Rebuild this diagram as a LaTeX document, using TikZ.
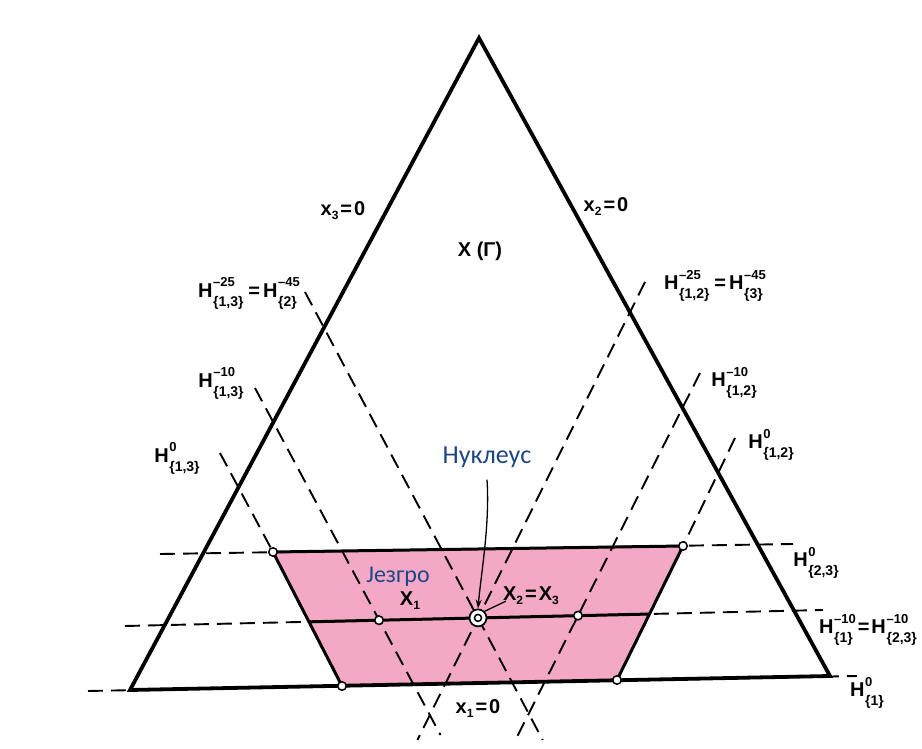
\documentclass[tikz,border=0pt]{standalone}
\usepackage{fontspec}
\setmainfont{Liberation Sans}
\newfontfamily\cyr{Carlito}
\usetikzlibrary{arrows.meta,calc}
\definecolor{pinkfill}{RGB}{243,168,198}
\definecolor{cyrblue}{RGB}{30,70,135}
\newcommand\Hsup{\fontsize{13}{13}\selectfont}
\newcommand\Hsub{\fontsize{14}{14}\selectfont}
\newcommand\HH[2]{H\kern0.6pt\smash{\raisebox{-9pt}{\vbox{\baselineskip=19.5pt\lineskiplimit=-50pt\hbox{\Hsup #1}\hbox{\Hsub #2}}}}}
\newcommand\SB[1]{\raisebox{-4pt}{\fontsize{12}{12}\selectfont #1}}
\newcommand\EQ{\kern2pt=\kern2pt}
\begin{document}
\begin{tikzpicture}[x=1pt,y=-1pt,
  tri/.style={line width=3.8pt,line join=miter},
  hdash/.style={line width=1.9pt,dash pattern=on 15pt off 8pt},
  edgeline/.style={line width=3pt},
  lab/.style={font=\fontsize{20}{20}\selectfont\bfseries,inner sep=0pt},
  cyrlab/.style={font=\cyr\fontsize{26}{26}\selectfont,text=cyrblue,inner sep=0pt},
  pt/.style={circle,draw=black,fill=white,line width=1.5pt,minimum size=8.5pt,inner sep=0pt}]
\useasboundingbox (0,0) rectangle (922,749);
\fill[white] (0,0) rectangle (922,749);

% key points
\coordinate (A) at (479,38);
\coordinate (BL) at (130,690);
\coordinate (BR) at (830,676);
\coordinate (TL) at (273,552);
\coordinate (TR) at (683,546);
\coordinate (PBL) at (342,686);
\coordinate (PBR) at (617,680);
\coordinate (T0) at (160,554);
\coordinate (T1) at (793,544);
\coordinate (M0) at (125,626);
\coordinate (M1) at (823,610);
\coordinate (B0) at (88,691);
\coordinate (B1) at (857,676);
\coordinate (P1) at (379,620.2);
\coordinate (N) at (478,617.9);
\coordinate (P2) at (578,615.6);
\coordinate (ML) at (intersection of M0--M1 and TL--PBL);
\coordinate (MR) at (intersection of M0--M1 and TR--PBR);

% pink core
\fill[pinkfill] (TL) -- (TR) -- (PBR) -- (PBL) -- cycle;

% dashed lines
\coordinate (s130) at (220,453);
\coordinate (s1310) at (255,388);
\coordinate (e1310) at (440.5,735);
\coordinate (s1325) at (305,292);
\coordinate (e1325) at (542.7,740);
\coordinate (s1225) at (645,282);
\coordinate (e1225) at (417.4,740);
\coordinate (s1210) at (700,373);
\coordinate (e1210) at (516.5,738);
\coordinate (s120) at (735,438);
\draw[hdash] (s130) -- (TL);
\draw[hdash] (s1310) -- (e1310);
\draw[hdash] (s1325) -- (e1325);
\draw[hdash] (s1225) -- (e1225);
\draw[hdash] (s1210) -- (e1210);
\draw[hdash] (s120) -- (TR);
\draw[hdash] (T0) -- (T1);
\draw[hdash] (M0) -- (M1);
\draw[hdash] (B0) -- (B1);

% solid lines
\draw[edgeline] (TL) -- (TR) -- (PBR);
\draw[edgeline] (TL) -- (PBL);
\draw[edgeline] (ML) -- (MR);
\draw[tri] (A) -- (BR) -- (BL) -- cycle;

% points
\foreach \p in {TL,TR,PBL,PBR,P1,P2} \node[pt] at (\p) {};
\node[circle,draw=black,fill=white,line width=1.7pt,minimum size=17pt,inner sep=0pt] (nuc) at (N) {};
\node[circle,draw=black,line width=1.5pt,minimum size=7pt,inner sep=0pt] (nucin) at (N) {};

% labels
\node[lab] (lx3) at (343,211) {x\SB{3}\EQ 0};
\node[lab] (lx2) at (606,207) {x\SB{2}\EQ 0};
\node[lab] (lx1) at (478,709) {x\SB{1}\EQ 0};
\node[lab] (lxg) at (480,251) {X (Γ)};
\node[lab] (h1325) at (249,290.5) {\HH{–25}{\{1,3\}}\kern3pt\EQ\kern1pt\HH{–45}{\{2\}}};
\node[lab] (h1225) at (715,283) {\HH{–25}{\{1,2\}}\kern3pt\EQ\kern1pt\HH{–45}{\{3\}}};
\node[lab] (h1310) at (221,380.5) {\HH{–10}{\{1,3\}}};
\node[lab] (h1210) at (734,380) {\HH{–10}{\{1,2\}}};
\node[lab] (h130) at (177,455.5) {\HH{0}{\{1,3\}}};
\node[lab] (h120) at (771,442) {\HH{0}{\{1,2\}}};
\node[lab] (h230) at (816,560) {\HH{0}{\{2,3\}}};
\node[lab] (h110) at (868,627) {\HH{–10}{\{1\}}\EQ\HH{–10}{\{2,3\}}};
\node[lab] (h10) at (867,690) {\HH{0}{\{1\}}};
\node[lab] (lX1) at (410,601) {X\SB{1}};
\node[lab] (lX23) at (531,596) {X\SB{2}\EQ X\SB{3}};
\node[cyrlab] (nucl) at (487,457) {Нуклеус};
\node[cyrlab,font=\cyr\fontsize{24}{24}\selectfont] (core) at (398,577) {Језгро};

% leaders
\draw[line width=1.3pt,-{Stealth[length=9pt,width=6pt]}] ($(nucl.south)+(0,12)$) .. controls +(3,45) and +(3,-35) .. (nuc.north);
\draw[line width=1.3pt] ($(lX23.south west)+(3,-4)$) -- (nuc.north east);
\end{tikzpicture}
\end{document}
